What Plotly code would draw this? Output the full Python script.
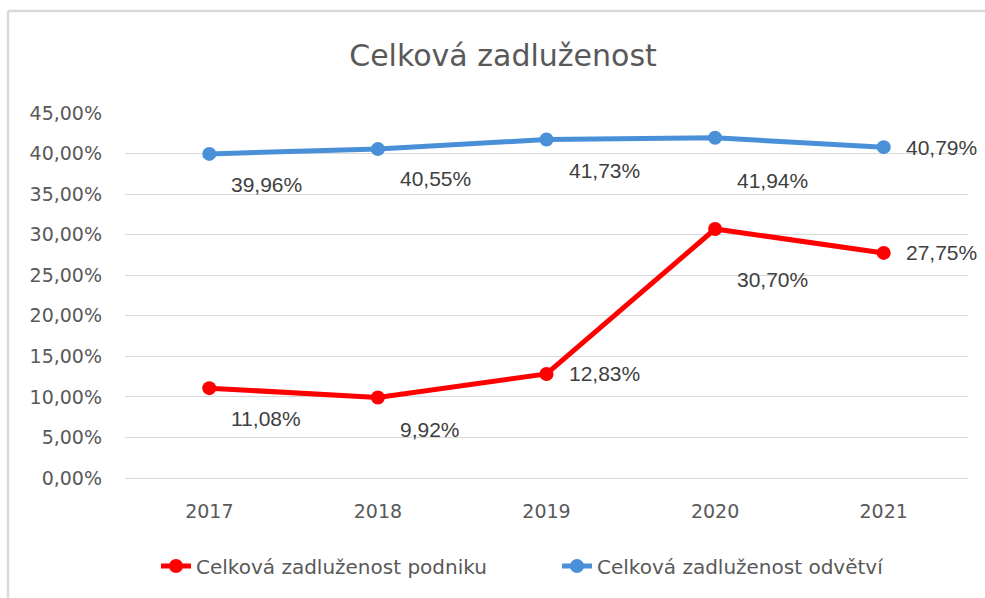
import plotly.graph_objects as go

years = ["2017", "2018", "2019", "2020", "2021"]
podnik = [11.08, 9.92, 12.83, 30.70, 27.75]
odvetvi = [39.96, 40.55, 41.73, 41.94, 40.79]
title_text = "Celková zadluženost"
name_podnik = "Celková zadluženost podniku"
name_odvetvi = "Celková zadluženost odvětví"

# label placement (pixels below the point), styling only
drop_podnik = [30, 32, 0, 51, 0]
drop_odvetvi = [31, 29, 31, 43, 0]

RED = "#FF0000"
BLUE = "#4A90D9"
GRID = "#D9D9D9"
TXT = "#595959"
LBL = "#404040"
FONT = "DejaVu Sans, sans-serif"

fig = go.Figure()
fig.add_trace(go.Scatter(x=years, y=podnik, name=name_podnik, mode="lines+markers",
                         line=dict(color=RED, width=5), marker=dict(size=14, color=RED)))
fig.add_trace(go.Scatter(x=years, y=odvetvi, name=name_odvetvi, mode="lines+markers",
                         line=dict(color=BLUE, width=5), marker=dict(size=14, color=BLUE)))

def fmt(v):
    return f"{v:.2f}".replace(".", ",") + "%"

annotations = []
for vals, drops in ((podnik, drop_podnik), (odvetvi, drop_odvetvi)):
    for i, (v, d) in enumerate(zip(vals, drops)):
        annotations.append(dict(x=i, y=v, xref="x", yref="y", text=fmt(v), showarrow=False,
                                xanchor="left", yanchor="middle", xshift=20, yshift=-d,
                                font=dict(family="Liberation Sans, Arial", size=21, color=LBL)))

L, R, T, B = 125, 17, 113, 120
W, H = 985, 598
pw, ph = W - L - R, H - T - B

fig.update_layout(
    width=W, height=H,
    margin=dict(l=L, r=R, t=T, b=B),
    paper_bgcolor="white", plot_bgcolor="white",
    separators=", ",
    font=dict(family=FONT, color=TXT, size=19),
    title=dict(text=title_text, x=(503 - L) / pw, xanchor="center", xref="paper",
               y=1 - 55 / H, yanchor="middle", font=dict(size=30, color=TXT, family=FONT)),
    showlegend=True,
    legend=dict(orientation="h", x=(156 - L) / pw, xanchor="left",
                y=(T + ph - 566) / ph, yanchor="middle", yref="paper",
                font=dict(size=20, color=TXT, family=FONT),
                traceorder="normal", entrywidth=356, entrywidthmode="pixels"),
    xaxis=dict(type="category", range=[-0.5, 4.5], showgrid=False, zeroline=False,
               showline=True, linecolor=GRID, linewidth=1, ticks="",
               tickfont=dict(size=19, color=TXT), ticklabelstandoff=16),
    yaxis=dict(range=[0, 45], dtick=5, tickformat=".2f", ticksuffix="%",
               showgrid=True, gridcolor=GRID, gridwidth=1.3, zeroline=False,
               showline=False, ticks="", tickfont=dict(size=19, color=TXT),
               ticklabelstandoff=22),
    annotations=annotations,
    shapes=[
        dict(type="line", xref="paper", yref="paper",
             x0=(8 - L) / pw, x1=(W + 20 - L) / pw, y0=(T + ph - 11) / ph, y1=(T + ph - 11) / ph,
             line=dict(color=GRID, width=2.5)),
        dict(type="line", xref="paper", yref="paper",
             x0=(8 - L) / pw, x1=(8 - L) / pw, y0=(T + ph - 11) / ph, y1=(T + ph - H - 20) / ph,
             line=dict(color=GRID, width=2.5)),
    ],
)

fig.write_html("out.html", config={"displayModeBar": False},
               post_script="document.body.style.margin='0';document.body.style.overflow='hidden';")
